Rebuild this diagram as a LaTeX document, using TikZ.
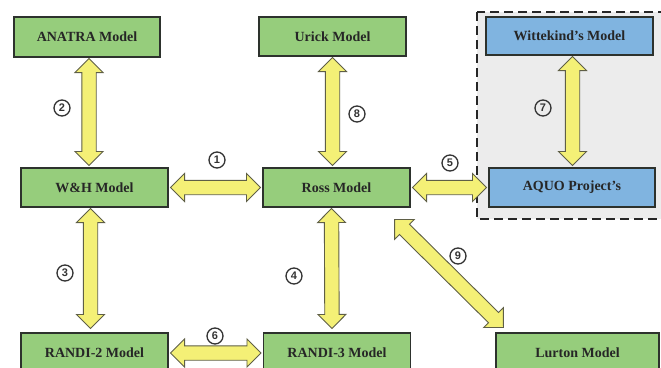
\documentclass[tikz,border=0pt]{standalone}
\usepackage{fontspec}
\setmainfont{Liberation Serif}
\newfontfamily\boxfont{Liberation Serif}
\newfontfamily\numfont{Liberation Sans}
\usetikzlibrary{calc}

\definecolor{boxgreen}{RGB}{150,205,124}
\definecolor{boxblue}{RGB}{128,180,224}
\definecolor{arrowyellow}{RGB}{244,240,118}
\definecolor{arrowedge}{RGB}{95,95,70}
\definecolor{groupgray}{RGB}{236,236,236}
\definecolor{edgedark}{RGB}{45,50,45}

\tikzset{
  modelbox/.style={draw=edgedark, line width=1.1pt, minimum width=147pt,
    minimum height=39pt, inner sep=0pt,
    font=\boxfont\bfseries\fontsize{14}{16}\selectfont, text=black!85},
  greenbox/.style={modelbox, fill=boxgreen},
  bluebox/.style={modelbox, fill=boxblue},
  linkarrow/.style={draw=arrowedge, fill=arrowyellow, line width=0.9pt, line join=miter},
  stepnum/.style={circle, draw=black!80, line width=1.3pt, minimum size=16pt,
    inner sep=0pt, font=\numfont\bfseries\fontsize{11}{11}\selectfont, text=black!80},
  groupframe/.style={draw=black!85, fill=groupgray, line width=1.6pt,
    dash pattern=on 9pt off 5pt}
}

% two-headed block arrow from #1 to #2
\newcommand\twoway[2]{%
  \path (#1) coordinate (tws) (#2) coordinate (twe);
  \path ($(tws)!14pt!(twe)$) coordinate (twp) ($(twe)!14pt!(tws)$) coordinate (twq);
  \draw[linkarrow] (tws)
    -- ($(twp)!14pt!90:(twe)$) -- ($(twp)!7.2pt!90:(twe)$)
    -- ($(twq)!7.2pt!-90:(tws)$) -- ($(twq)!14pt!-90:(tws)$)
    -- (twe)
    -- ($(twq)!14pt!90:(tws)$) -- ($(twq)!7.2pt!90:(tws)$)
    -- ($(twp)!7.2pt!-90:(twe)$) -- ($(twp)!14pt!-90:(twe)$)
    -- cycle;}

\begin{document}
\begin{tikzpicture}[x=1pt, y=-1pt]
  \useasboundingbox (0,0) rectangle (661,367);
  \clip (0,0) rectangle (661,367);

  % grouped models
  \draw[groupframe] (477,12) rectangle (680,219);

  % model boxes
  \node[greenbox, minimum width=146pt, minimum height=40pt] (anatra) at (87,37) {ANATRA Model};
  \node[greenbox] (wh) at (94.5,187.5) {W\&H Model};
  \node[greenbox] (urick) at (332.5,36.5) {Urick Model};
  \node[greenbox] (ross) at (336.5,187.5) {Ross Model};
  \node[bluebox, minimum width=167pt, minimum height=38pt] (witt) at (569.5,36) {Wittekind’s Model};
  \node[bluebox, minimum width=166pt] (aquo) at (572,187.5) {AQUO Project’s};
  \node[greenbox, minimum height=40pt] (randitwo) at (94.5,353) {RANDI-2 Model};
  \node[greenbox, minimum height=40pt] (randithree) at (337,353) {RANDI-3 Model};
  \node[greenbox, minimum width=163pt, minimum height=40pt] (lurton) at (577.5,353) {Lurton Model};

  % anchor points for the links (canvas y points up)
  \coordinate (a2s) at ([xshift=2pt,yshift=-1pt]anatra.south);
  \coordinate (a2e) at ([xshift=2pt,yshift=2pt]anatra.south |- wh.north);
  \coordinate (a8s) at ([yshift=-1pt]urick.south);
  \coordinate (a8e) at ([yshift=2pt]urick.south |- ross.north);
  \coordinate (a7s) at ([xshift=3pt,yshift=-1pt]witt.south);
  \coordinate (a7e) at ([xshift=3pt,yshift=2pt]witt.south |- aquo.north);
  \coordinate (a3s) at ([xshift=-4pt,yshift=-1pt]wh.south);
  \coordinate (a3e) at ([xshift=-4pt,yshift=4pt]randitwo.north);
  \coordinate (a4s) at ([xshift=-5pt,yshift=-1pt]ross.south);
  \coordinate (a4e) at ([xshift=-5pt,yshift=4pt]randithree.north);
  \coordinate (a9s) at ([shift={(-16pt,-12pt)}]ross.south east);
  \coordinate (a9e) at ([shift={(8pt,5pt)}]lurton.north west);

  % links between models
  \twoway{a2s}{a2e}
  \twoway{a8s}{a8e}
  \twoway{a7s}{a7e}
  \twoway{a3s}{a3e}
  \twoway{a4s}{a4e}
  \twoway{[xshift=2pt]wh.east}{[xshift=-2pt]ross.west}
  \twoway{[xshift=2pt]ross.east}{[xshift=-2pt]aquo.west}
  \twoway{[xshift=2pt]randitwo.east}{[xshift=-2pt]randithree.west}
  \twoway{a9s}{a9e}

  % step numbers
  \node[stepnum] (n1) at (217,160) {1};
  \node[stepnum] (n2) at (62,108) {2};
  \node[stepnum] (n3) at (65,273) {3};
  \node[stepnum] (n4) at (294,276) {4};
  \node[stepnum] (n5) at (450,163) {5};
  \node[stepnum] (n6) at (215,336) {6};
  \node[stepnum] (n7) at (543,108) {7};
  \node[stepnum] (n8) at (357,114) {8};
  \node[stepnum] (n9) at (458,256) {9};
\end{tikzpicture}
\end{document}
